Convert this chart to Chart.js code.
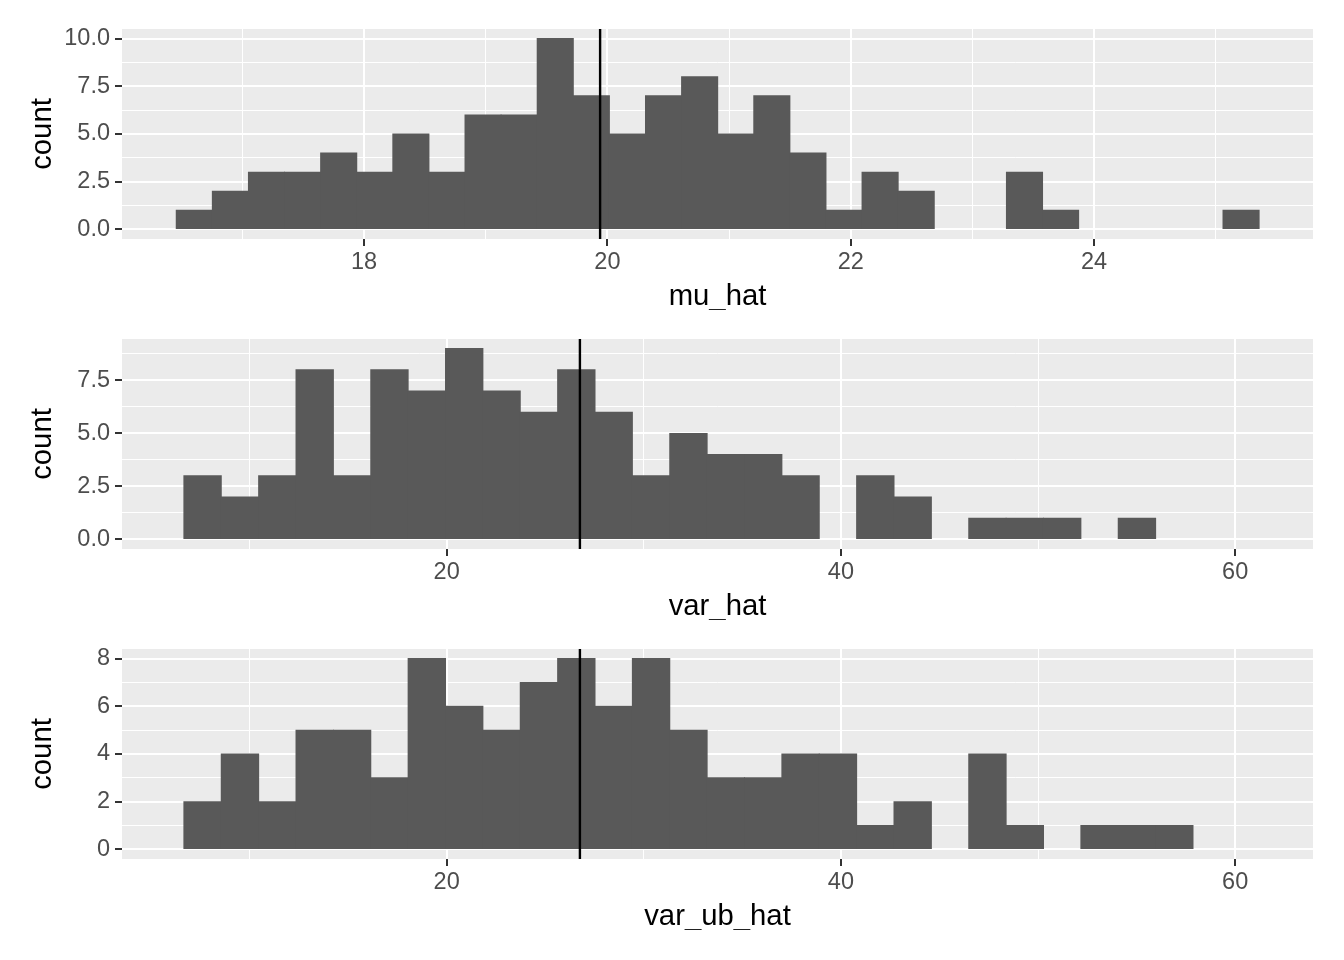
<!DOCTYPE html>
<html>
<head>
<meta charset="utf-8">
<script src="https://cdn.jsdelivr.net/npm/chart.js@4.4.1/dist/chart.umd.min.js"></script>
<style>
  body { margin: 0; background: #fff; }
  canvas { position: absolute; left: 0; }
</style>
</head>
<body>
<canvas id="muChart" width="1344" height="310" style="top:0px"></canvas>
<canvas id="varChart" width="1344" height="310" style="top:310px"></canvas>
<canvas id="varUbChart" width="1344" height="310" style="top:620px"></canvas>
<script>
// mu_hat histogram, 30 bins
const muBinStart = 16.456;
const muBinWidth = 0.2967;
const muCounts = [1, 2, 3, 3, 4, 3, 5, 3, 6, 6, 10, 7, 5, 7, 8, 5, 7, 4, 1, 3, 2, 0, 0, 3, 1, 0, 0, 0, 0, 1];
const muMean = 19.94;
const muRange = [16.01, 25.8];
const muXTicks = [18, 20, 22, 24];
const muXMinor = [17, 19, 21, 23, 25];
const muYTicks = [0, 2.5, 5, 7.5, 10];
const muYMinor = [1.25, 3.75, 6.25, 8.75];

// var_hat and var_ub_hat use the same bins
const varBinStart = 6.67;
const varBinWidth = 1.896;
const varRange = [3.53, 63.95];
const varCounts = [3, 2, 3, 8, 3, 8, 7, 9, 7, 6, 8, 6, 3, 5, 4, 4, 3, 0, 3, 2, 0, 1, 1, 1, 0, 1];
const varMean = 26.76;
const varUbCounts = [2, 4, 2, 5, 5, 3, 8, 6, 5, 7, 8, 6, 8, 5, 3, 3, 4, 4, 1, 2, 0, 4, 1, 0, 1, 1, 1];
const varUbMean = 26.76;
const varXTicks = [20, 40, 60];
const varXMinor = [10, 30, 50];
const varYTicks = [0, 2.5, 5, 7.5];
const varYMinor = [1.25, 3.75, 6.25, 8.75];
const varUbYTicks = [0, 2, 4, 6, 8];
const varUbYMinor = [1, 3, 5, 7];

const family = '"Liberation Sans", Arial, sans-serif';

const panelBg = {
  id: 'panelBg',
  beforeDraw(chart) {
    const { ctx, chartArea: a } = chart;
    ctx.save();
    ctx.fillStyle = '#EBEBEB';
    ctx.fillRect(a.left, a.top, a.right - a.left, a.bottom - a.top);
    ctx.restore();
  }
};

function isIn(list, v) {
  return list.some(t => Math.abs(t - v) < 1e-9);
}

function axis(pos, major, minor, min, max, fmt, title) {
  const all = major.concat(minor).sort((a, b) => a - b);
  const horiz = pos === 'bottom';
  return {
    type: 'linear',
    position: pos,
    min: min,
    max: max,
    offset: false,
    afterBuildTicks: s => { s.ticks = all.map(v => ({ value: v })); },
    afterFit: s => {
      if (horiz) s.height = 71; else s.width = 122;
    },
    grid: {
      offset: false,
      color: '#FFFFFF',
      lineWidth: c => (c.tick && isIn(major, c.tick.value)) ? 2 : 1,
      tickLength: 7,
      tickWidth: 2,
      tickColor: c => (c.tick && isIn(major, c.tick.value)) ? '#333333' : 'rgba(0,0,0,0)'
    },
    border: { display: false },
    ticks: {
      autoSkip: false,
      maxRotation: 0,
      minRotation: 0,
      padding: horiz ? 2 : 5,
      color: '#4D4D4D',
      font: { family: family, size: 23.5 },
      callback: v => isIn(major, v) ? fmt(v) : ''
    },
    title: {
      display: true,
      text: title,
      color: '#000000',
      font: { family: family, size: 29.3, lineHeight: 1 },
      padding: horiz ? { top: 0, bottom: -2 } : { top: 28, bottom: 0 }
    }
  };
}

function histogram(id, h) {
  const bars = h.counts.map((c, i) => ({ x: h.binStart + (i + 0.5) * h.binWidth, y: c }));
  const top = Math.max(...h.counts);
  const yMin = -0.05 * top;
  const yMax = top * 1.05;
  return new Chart(document.getElementById(id), {
    type: 'bar',
    data: {
      datasets: [
        {
          type: 'line',
          data: [{ x: h.mean, y: yMin }, { x: h.mean, y: yMax }],
          borderColor: '#000000',
          borderWidth: 2.4,
          pointRadius: 0,
          fill: false,
          order: 0
        },
        {
          data: bars,
          backgroundColor: '#595959',
          borderWidth: 0,
          barPercentage: 1,
          categoryPercentage: 1,
          inflateAmount: c => (c.raw && c.raw.y > 0) ? 0.5 : 0,
          order: 1
        }
      ]
    },
    options: {
      responsive: false,
      animation: false,
      events: [],
      layout: { padding: { left: 0, right: 31, top: 29, bottom: 0 } },
      plugins: { legend: { display: false }, tooltip: { enabled: false } },
      scales: {
        x: axis('bottom', h.xTicks, h.xMinor, h.range[0], h.range[1], v => String(v), h.title),
        y: axis('left', h.yTicks, h.yMinor, yMin, yMax, h.yFmt, 'count')
      }
    },
    plugins: [panelBg]
  });
}

histogram('muChart', {
  binStart: muBinStart, binWidth: muBinWidth, counts: muCounts, mean: muMean, range: muRange,
  xTicks: muXTicks, xMinor: muXMinor, yTicks: muYTicks, yMinor: muYMinor,
  yFmt: v => v.toFixed(1), title: 'mu_hat'
});
histogram('varChart', {
  binStart: varBinStart, binWidth: varBinWidth, counts: varCounts, mean: varMean, range: varRange,
  xTicks: varXTicks, xMinor: varXMinor, yTicks: varYTicks, yMinor: varYMinor,
  yFmt: v => v.toFixed(1), title: 'var_hat'
});
histogram('varUbChart', {
  binStart: varBinStart, binWidth: varBinWidth, counts: varUbCounts, mean: varUbMean, range: varRange,
  xTicks: varXTicks, xMinor: varXMinor, yTicks: varUbYTicks, yMinor: varUbYMinor,
  yFmt: v => String(v), title: 'var_ub_hat'
});
</script>
</body>
</html>
